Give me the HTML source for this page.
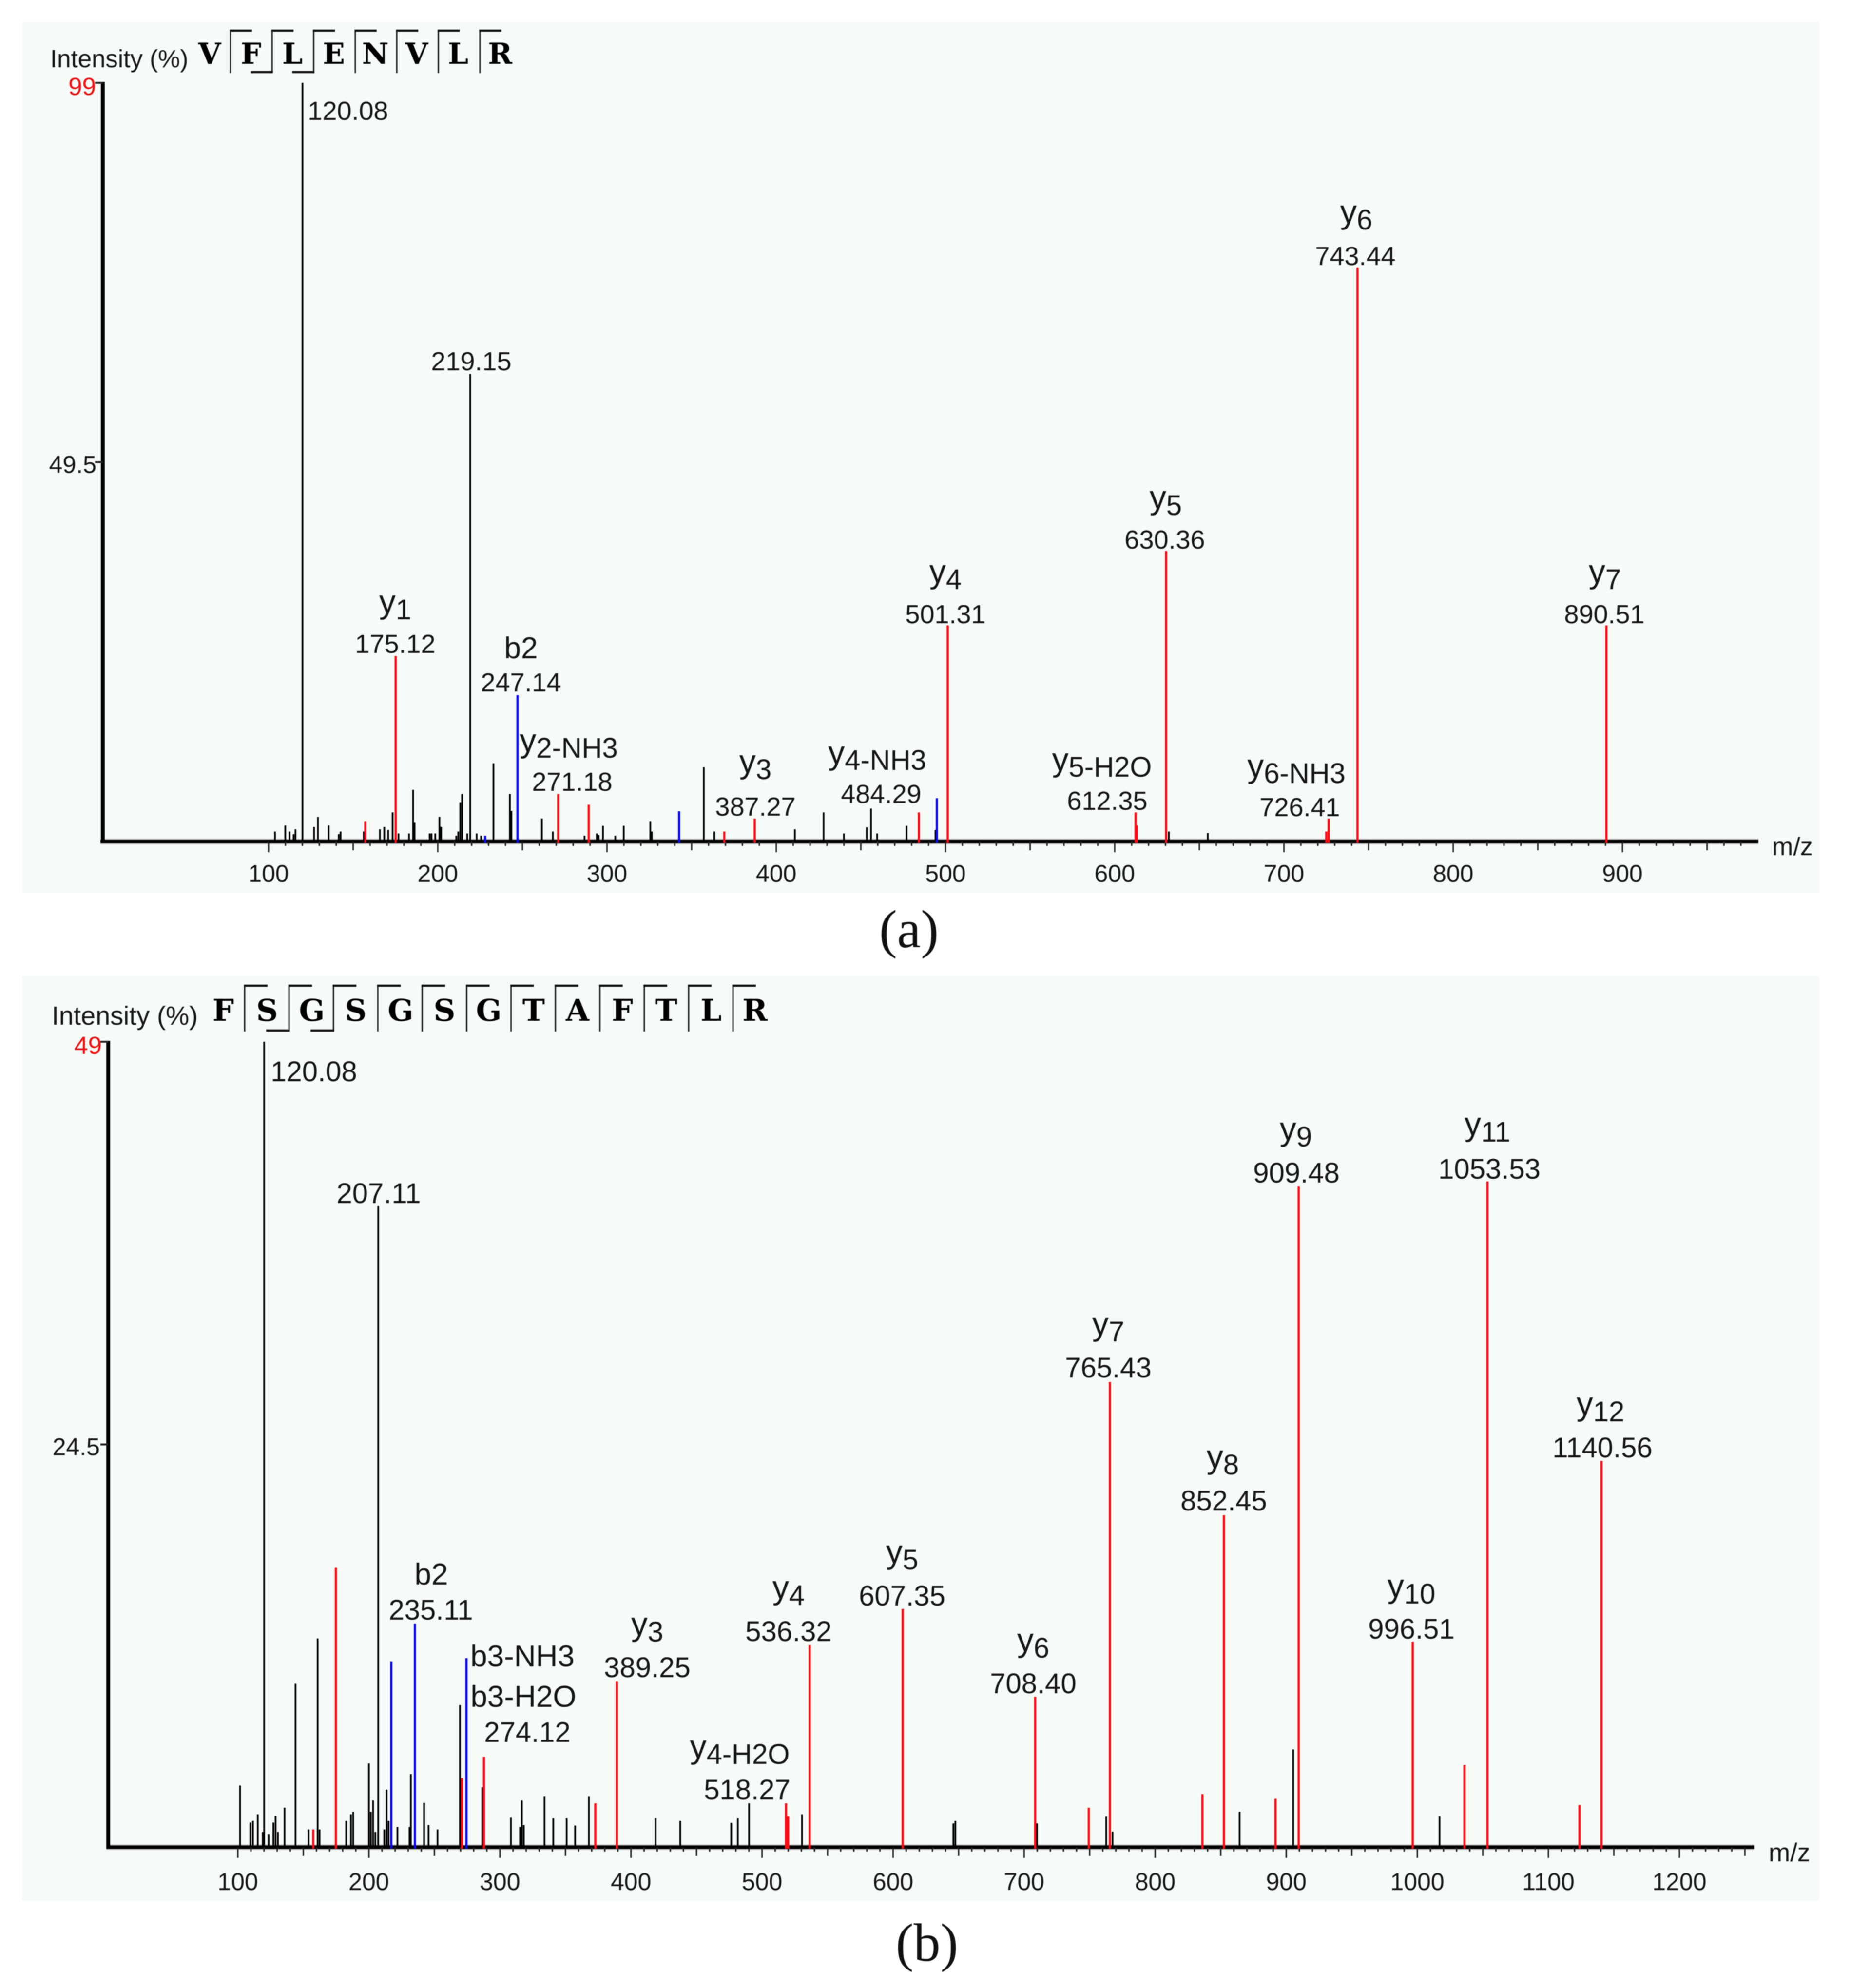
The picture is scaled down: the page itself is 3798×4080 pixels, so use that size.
<!DOCTYPE html>
<html lang="en">
<head>
<meta charset="utf-8">
<title>MS/MS spectra of VFLENVLR and FSGSGSGTAFTLR</title>
<style>
html,body{margin:0;padding:0;background:#fff;}
svg{display:block;}
text{font-family:"Liberation Sans",Arial,sans-serif;fill:#151515;}
.num{font-size:54px;text-anchor:middle;}
.numb{font-size:58px;text-anchor:middle;}
.ion{font-size:68px;text-anchor:middle;}
.sub{font-size:58px;}
.tick{font-size:50px;text-anchor:middle;}
.ytick{font-size:50px;text-anchor:end;}
.max{font-size:51px;text-anchor:end;fill:#f01010;}
.res{font-family:"DejaVu Serif",serif;font-weight:bold;text-anchor:middle;fill:#000;}
.cap{font-family:"Liberation Serif",serif;font-size:110px;text-anchor:middle;fill:#111;}
#marks-a,#marks-b,#labels{filter:blur(0.7px);}
</style>
</head>
<body>
<svg id="figure" xmlns="http://www.w3.org/2000/svg" width="3798" height="4080" viewBox="0 0 3798 4080">
  <rect width="3798" height="4080" fill="#ffffff"/>
  <rect x="46" y="45" width="3687" height="1787" fill="#f7fbf8"/>
  <rect x="46" y="2003" width="3687" height="1898" fill="#f7fbf8"/>
  <g id="marks-a"></g>
  <g id="marks-b"></g>
  <g id="labels">
    <!-- Panel A -->
    <text x="103" y="138" font-size="51">Intensity (%)</text>
    <text x="3636" y="1755" font-size="52">m/z</text>
    <g font-size="60">
      <text class="res" x="430" y="131">V</text>
      <text class="res" x="515" y="131">F</text>
      <text class="res" x="600" y="131">L</text>
      <text class="res" x="685" y="131">E</text>
      <text class="res" x="770" y="131">N</text>
      <text class="res" x="855" y="131">V</text>
      <text class="res" x="940" y="131">L</text>
      <text class="res" x="1026" y="131">R</text>
    </g>
    <text class="num" x="714" y="246">120.08</text>
    <text class="num" x="967" y="760">219.15</text>
    <text class="ion" x="811" y="1258">y<tspan class="sub" dy="13">1</tspan></text>
    <text class="num" x="811" y="1340">175.12</text>
    <text class="ion" x="1069" y="1351" style="font-size:62px">b2</text>
    <text class="num" x="1069" y="1419">247.14</text>
    <text class="ion" x="1167" y="1543">y<tspan class="sub" dy="12">2-NH3</tspan></text>
    <text class="num" x="1174" y="1623">271.18</text>
    <text class="ion" x="1550" y="1586">y<tspan class="sub" dy="13">3</tspan></text>
    <text class="num" x="1550" y="1674">387.27</text>
    <text class="ion" x="1800" y="1568">y<tspan class="sub" dy="12">4-NH3</tspan></text>
    <text class="num" x="1808" y="1648">484.29</text>
    <text class="ion" x="1940" y="1196">y<tspan class="sub" dy="13">4</tspan></text>
    <text class="num" x="1940" y="1279">501.31</text>
    <text class="ion" x="2261" y="1582">y<tspan class="sub" dy="12">5-H2O</tspan></text>
    <text class="num" x="2272" y="1662">612.35</text>
    <text class="ion" x="2392" y="1044">y<tspan class="sub" dy="13">5</tspan></text>
    <text class="num" x="2390" y="1126">630.36</text>
    <text class="ion" x="2660" y="1595">y<tspan class="sub" dy="12">6-NH3</tspan></text>
    <text class="num" x="2667" y="1675">726.41</text>
    <text class="ion" x="2783" y="458">y<tspan class="sub" dy="13">6</tspan></text>
    <text class="num" x="2781" y="544">743.44</text>
    <text class="ion" x="3293" y="1196">y<tspan class="sub" dy="13">7</tspan></text>
    <text class="num" x="3292" y="1279">890.51</text>
    <text class="cap" x="1865" y="1944">(a)</text>

    <!-- Panel B -->
    <text x="106" y="2103" font-size="54">Intensity (%)</text>
    <text x="3629" y="3820" font-size="53">m/z</text>
    <g font-size="62">
      <text class="res" x="458" y="2095">F</text>
      <text class="res" x="548" y="2095">S</text>
      <text class="res" x="640" y="2095">G</text>
      <text class="res" x="730" y="2095">S</text>
      <text class="res" x="822" y="2095">G</text>
      <text class="res" x="912" y="2095">S</text>
      <text class="res" x="1003" y="2095">G</text>
      <text class="res" x="1095" y="2095">T</text>
      <text class="res" x="1185" y="2095">A</text>
      <text class="res" x="1277" y="2095">F</text>
      <text class="res" x="1367" y="2095">T</text>
      <text class="res" x="1459" y="2095">L</text>
      <text class="res" x="1549" y="2095">R</text>
    </g>
    <text class="numb" x="644" y="2219">120.08</text>
    <text class="numb" x="777" y="2469">207.11</text>
    <text class="ion" x="885" y="3252" style="font-size:62px">b2</text>
    <text class="numb" x="884" y="3324">235.11</text>
    <text class="ion" x="1072" y="3420" style="font-size:62px">b3-NH3</text>
    <text class="ion" x="1074" y="3503" style="font-size:62px">b3-H2O</text>
    <text class="numb" x="1082" y="3575">274.12</text>
    <text class="ion" x="1328" y="3356">y<tspan class="sub" dy="13">3</tspan></text>
    <text class="numb" x="1328" y="3442">389.25</text>
    <text class="ion" x="1518" y="3608">y<tspan class="sub" dy="12">4-H2O</tspan></text>
    <text class="numb" x="1533" y="3693">518.27</text>
    <text class="ion" x="1618" y="3281">y<tspan class="sub" dy="13">4</tspan></text>
    <text class="numb" x="1618" y="3368">536.32</text>
    <text class="ion" x="1851" y="3208">y<tspan class="sub" dy="13">5</tspan></text>
    <text class="numb" x="1851" y="3295">607.35</text>
    <text class="ion" x="2120" y="3389">y<tspan class="sub" dy="13">6</tspan></text>
    <text class="numb" x="2120" y="3475">708.40</text>
    <text class="ion" x="2274" y="2740">y<tspan class="sub" dy="13">7</tspan></text>
    <text class="numb" x="2274" y="2827">765.43</text>
    <text class="ion" x="2509" y="3013">y<tspan class="sub" dy="13">8</tspan></text>
    <text class="numb" x="2511" y="3100">852.45</text>
    <text class="ion" x="2659" y="2340">y<tspan class="sub" dy="13">9</tspan></text>
    <text class="numb" x="2660" y="2427">909.48</text>
    <text class="ion" x="2896" y="3278">y<tspan class="sub" dy="13">10</tspan></text>
    <text class="numb" x="2896" y="3363">996.51</text>
    <text class="ion" x="3052" y="2330">y<tspan class="sub" dy="13">11</tspan></text>
    <text class="numb" x="3056" y="2419">1053.53</text>
    <text class="ion" x="3284" y="2904">y<tspan class="sub" dy="13">12</tspan></text>
    <text class="numb" x="3288" y="2991">1140.56</text>
    <text class="cap" x="1902" y="4024">(b)</text>
  </g>
</svg>

<script>
/* ---------- Panel A data: VFLENVLR ---------- */
const aOtherMz = [103.8,109.9,112.4,114.8,115.9,120.08,126.9,129.2,135.5,141.5,142.6,156.3,165.8,168.4,170.7,173.3,176.8,183,185.4,186.3,195.2,196.3,198.5,201,202,210.9,212.1,213.3,214.4,217.4,219.15,223,225.6,232.9,242.6,243.5,261.5,268,286.7,294,295,297.6,304.9,309.9,325.6,326.5,357.2,363.4,411,428,440,453.5,456,459.6,477,494.1,632,655];
const aOtherIntensity = [1.3,2.1,1.3,0.95,1.6,99,1.9,3.2,2.1,0.95,1.3,1.3,1.6,1.9,1.5,3.8,1.05,1.05,6.75,2.45,1.05,1.05,1.05,3.2,1.9,0.75,1.3,5.1,6.2,1.05,61,1.05,0.75,10.2,6.2,4,3,1.3,0.75,1.05,0.85,2.05,0.75,2.05,2.65,1.3,9.7,1.3,1.6,3.8,1.05,1.85,4.3,1.05,2.05,1.5,1.3,1.1];
const aYMz = [157.2,175.12,271.18,289.2,369.3,387.27,484.29,501.31,612.35,613,630.36,725,726.41,743.44,890.51];
const aYIntensity = [2.65,24.2,6.2,4.8,1.3,3,3.8,28.2,3.8,2.1,37.9,1.3,3,74.9,28.2];
const aBMz = [228,247.14,342.6,494.9];
const aBIntensity = [0.75,19.1,3.95,5.65];
const aXTickLabels = [100,200,300,400,500,600,700,800,900];
const aYTickLabels = [49.5];
const aYMaxLabel = [99];

/* ---------- Panel B data: FSGSGSGTAFTLR ---------- */
const bOtherMz = [101.7,109.6,111.5,115.2,119,120.08,123.5,127.1,128.8,130.6,135.7,144,154,160.9,162.4,182.7,186.3,188,200,201.5,203.2,204.9,207.11,211.8,213.5,215,221.8,231,232,242.1,245.5,252.4,269.5,286.6,308.4,315.4,316.7,318.2,334,340.7,350.9,357.4,367.9,418.8,437.6,476.5,481.5,490.1,530.5,646,647.5,709.8,762.6,767.5,864.4,905.3,1017];
const bOtherIntensity = [3.75,1.5,1.6,2,0.92,49,0.8,1.5,1.9,0.92,2.4,9.95,1.08,12.7,1.08,1.6,2,2.15,5.1,2.15,2.85,0.92,39,1.08,3.5,1.6,1.23,1.23,4.45,2.7,1.35,1.08,8.65,3.65,1.8,1.23,2.85,1.35,3.1,1.76,1.76,1.32,3.1,1.76,1.6,1.48,1.76,2.67,2,1.45,1.6,1.45,1.86,0.94,2.15,5.95,1.87];
const bYMz = [157.5,174.8,271,287.8,372.8,389.25,518.27,519.9,536.32,607.35,708.4,749.3,765.43,836,852.45,891.8,909.48,996.51,1036,1053.53,1123.8,1140.56];
const bYIntensity = [1.08,17,4.2,5.5,2.67,10.1,2.67,1.86,12.3,14.5,9.15,2.4,28.3,3.23,20.2,2.95,40.2,12.5,5,40.5,2.57,23.5];
const bBMz = [217.1,235.11,274.4];
const bBIntensity = [11.3,13.6,11.5];
const bXTickLabels = [100,200,300,400,500,600,700,800,900,1000,1100,1200];
const bYTickLabels = [24.5];
const bYMaxLabel = [49];

/* ---------- Cleavage markers: does the residue gap show a b-ion hook? ---------- */
const aCleavageB = [0,1,1,0,0,0,0];
const bCleavageB = [0,1,1,0,0,0,0,0,0,0,0,0];

const NS = 'http://www.w3.org/2000/svg';

function seg(parent, x1, y1, x2, y2, color, width) {
  const el = document.createElementNS(NS, 'line');
  el.setAttribute('x1', x1);
  el.setAttribute('y1', y1);
  el.setAttribute('x2', x2);
  el.setAttribute('y2', y2);
  el.setAttribute('stroke', color);
  el.setAttribute('stroke-width', width);
  parent.appendChild(el);
  return el;
}

function txt(parent, x, y, cls, content) {
  const el = document.createElementNS(NS, 'text');
  el.setAttribute('x', x);
  el.setAttribute('y', y);
  el.setAttribute('class', cls);
  el.textContent = content;
  parent.appendChild(el);
  return el;
}

function drawCleavage(parent, flags, startX, stepX, top, bottom, hook) {
  flags.forEach(function (flag, i) {
    const x = startX + i * stepX;
    const bar = seg(parent, x, top, x, bottom, '#222', 3);
    
    
    const yHook = seg(parent, x - 1.5, top + 2, x + hook, top + 2, '#111', 4.5);
    
    
    if (flag) {
      const bHook = seg(parent, x + 1.5, bottom - 2, x - hook, bottom - 2, '#111', 4.5);
      
      
    }
  });
}

function drawSpectrum(opts) {
  const g = opts.group;
  const x = function (mz) { return opts.x100 + (mz - 100) * opts.pxPerUnit; };
  const y = function (v) { return opts.axisY - v * (opts.axisY - opts.topY) / opts.maxValue; };

  /* axis lines */
  const haloX = seg(g, opts.axisLeft, opts.axisY, opts.axisRight, opts.axisY, '#b4b6b4', 11);
  
  
  const axisX = seg(g, opts.axisLeft, opts.axisY, opts.axisRight, opts.axisY, '#000', 7);
  
  
  const axisV = seg(g, opts.axisLeftX, opts.topY - 2, opts.axisLeftX, opts.axisY + 3, '#000', 8);
  
  

  /* y ticks */
  const maxTick = seg(g, opts.yTickLeft, opts.topY, opts.axisLeftX, opts.topY, '#222', 4);
  
  
  const maxLabel = txt(g, opts.yMaxX, opts.yMaxBase, 'max', String(opts.yMax[0]));
  
  
  opts.yTicks.forEach(function (v) {
    const t = seg(g, opts.yTickLeft, y(v), opts.axisLeftX, y(v), '#222', 4);
    
    
    const l = txt(g, opts.yLabelX, y(v) + 22, 'ytick', String(v));
    
    
  });

  /* x ticks: minor every 10, medium every 50, major every 100 */
  for (let m = 100; m <= opts.lastMinor; m += 10) {
    const len = m % 100 === 0 ? opts.tickMajor : (m % 50 === 0 ? opts.tickMid : opts.tickMinor);
    const t = seg(g, x(m), opts.axisY, x(m), opts.axisY + len, '#222', 3);
    
    
  }
  opts.xTicks.forEach(function (m) {
    const l = txt(g, x(m), opts.xLabelBase, 'tick', String(m));
    
    
  });

  /* peaks */
  opts.otherMz.forEach(function (mz, i) {
    const p = seg(g, x(mz), y(opts.otherInt[i]), x(mz), opts.axisY, '#000', 3.6);
    
    
  });
  opts.yMz.forEach(function (mz, i) {
    const p = seg(g, x(mz), y(opts.yInt[i]), x(mz), opts.axisY + 3, '#ff0a14', 4.6);
    
    
  });
  opts.bMz.forEach(function (mz, i) {
    const p = seg(g, x(mz), y(opts.bInt[i]), x(mz), opts.axisY + 3, '#0a0af0', 4.6);
    
    
  });
}

drawCleavage(document.getElementById('marks-a'), aCleavageB, 473, 85.3, 61, 150, 44);
drawCleavage(document.getElementById('marks-b'), bCleavageB, 502, 91.1, 2021, 2117, 47);

drawSpectrum({
  group: document.getElementById('marks-a'),
  x100: 551, pxPerUnit: 3.4725, axisY: 1727, topY: 170, maxValue: 99,
  axisLeft: 206, axisRight: 3608, axisLeftX: 211,
  yTickLeft: 195, yLabelX: 198, yMaxX: 197, yMaxBase: 195,
  yMax: aYMaxLabel, yTicks: aYTickLabels,
  xTicks: aXTickLabels, xLabelBase: 1810,
  lastMinor: 970, tickMajor: 22, tickMid: 18, tickMinor: 9,
  otherMz: aOtherMz, otherInt: aOtherIntensity,
  yMz: aYMz, yInt: aYIntensity,
  bMz: aBMz, bInt: aBIntensity
});

drawSpectrum({
  group: document.getElementById('marks-b'),
  x100: 488, pxPerUnit: 2.689, axisY: 3791, topY: 2138, maxValue: 49,
  axisLeft: 218, axisRight: 3599, axisLeftX: 222,
  yTickLeft: 206, yLabelX: 205, yMaxX: 209, yMaxBase: 2163,
  yMax: bYMaxLabel, yTicks: bYTickLabels,
  xTicks: bXTickLabels, xLabelBase: 3879,
  lastMinor: 1250, tickMajor: 22, tickMid: 18, tickMinor: 9,
  otherMz: bOtherMz, otherInt: bOtherIntensity,
  yMz: bYMz, yInt: bYIntensity,
  bMz: bBMz, bInt: bBIntensity
});
</script>
</body>
</html>
